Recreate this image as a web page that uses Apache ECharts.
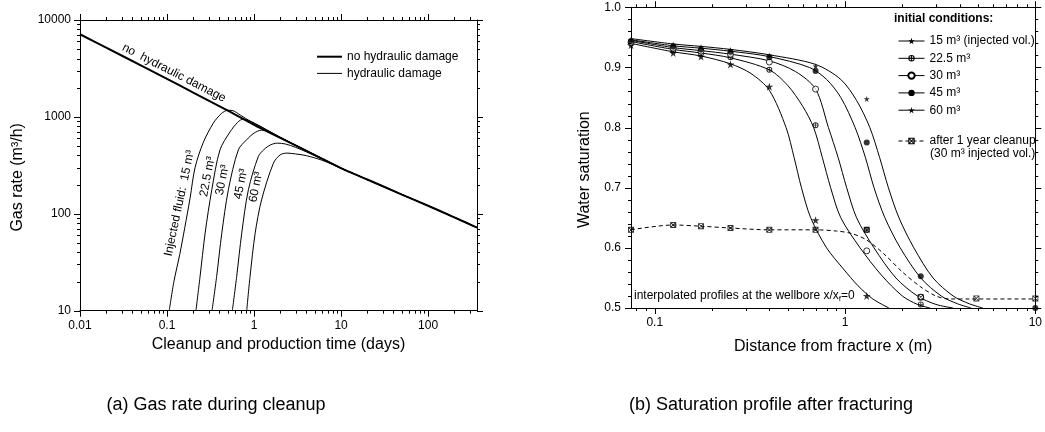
<!DOCTYPE html>
<html><head><meta charset="utf-8">
<script src="https://cdn.jsdelivr.net/npm/echarts@6/dist/echarts.min.js"></script>
<style>html,body{margin:0;padding:0;background:#fff}#c{width:1045px;height:432px}</style>
</head><body><div id="c"></div>
<script>
const FONT = '"Liberation Sans", Arial, sans-serif';

// ---------------- (a) Gas rate during cleanup ----------------
const gasTimeTicks = [0.01, 0.1, 1, 10, 100];
const gasRateTicks = [10, 100, 1000, 10000];
const noDamageTime = [0.01,0.02,0.05,0.1,0.2,0.5,1,2,5,10,20,50,100,200,365];
const noDamageRate = [7130,5190,3400,2470,1780,1160,830,608,404,296,226,158,121,92,72];
const dmg15Time = [0.106,0.12,0.14,0.16,0.184,0.21,0.26,0.34,0.42,0.5,0.56,0.7,0.9,1.2,1.6,2,3,5,10,20,50,100,200,365];
const dmg15Rate = [10,20,38,72,145,300,540,860,1080,1170,1165,1040,905,790,682,612,508,404,296,226,158,121,92,72];
const dmg22Time = [0.215,0.239,0.274,0.327,0.406,0.53,0.65,0.75,0.9,1.2,1.6,2,3,5,10,20,50,100,200,365];
const dmg22Rate = [10,22,63,177,457,700,880,950,905,795,688,614,510,405,296,226,158,121,92,72];
const dmg30Time = [0.329,0.372,0.426,0.507,0.66,0.82,1.0,1.22,1.5,2,3,5,10,20,50,100,200,365];
const dmg30Rate = [10,22.6,63,177,457,580,680,730,705,618,510,405,296,226,158,121,92,72];
const dmg45Time = [0.563,0.632,0.722,0.861,1.12,1.3,1.55,1.85,2.3,3,4,6,10,20,50,100,200,365];
const dmg45Rate = [10,22.6,63,177,390,460,515,536,525,485,435,368,294,226,158,121,92,72];
const dmg60Time = [0.824,0.9,1.03,1.22,1.67,1.99,2.38,3,4,6,8,10,20,50,100,200,365];
const dmg60Rate = [10,22.6,63,139,333,405,423,415,398,358,322,294,226,158,121,92,72];

// ---------------- (b) Saturation profile after fracturing ----------------
const distTicks = [0.1, 1, 10];
const satTicks = [0.5, 0.6, 0.7, 0.8, 0.9, 1.0];
const c15x = [0.075,0.125,0.175,0.25,0.32,0.4,0.49,0.54,0.59,0.66,0.8,0.98,1.17,1.4,1.7];
const c15y = [0.940,0.926,0.919,0.906,0.89,0.862,0.80,0.75,0.70,0.65,0.60,0.565,0.537,0.515,0.5];
const c22x = [0.075,0.125,0.175,0.25,0.4,0.5,0.6,0.684,0.76,0.84,0.95,1.2,1.55,2.0,2.4,2.8];
const c22y = [0.943,0.930,0.924,0.916,0.896,0.87,0.835,0.80,0.75,0.70,0.65,0.60,0.555,0.52,0.506,0.5];
const c30x = [0.075,0.125,0.175,0.25,0.4,0.55,0.7,0.818,0.92,1.02,1.15,1.42,1.85,2.4,3.0,3.7];
const c30y = [0.945,0.933,0.928,0.922,0.911,0.893,0.864,0.80,0.75,0.70,0.65,0.60,0.55,0.52,0.506,0.5];
const c45x = [0.075,0.125,0.175,0.25,0.4,0.65,0.8,0.95,1.13,1.28,1.42,1.62,1.95,2.5,3.2,3.9,4.6];
const c45y = [0.946,0.936,0.932,0.927,0.918,0.90,0.88,0.85,0.80,0.75,0.70,0.65,0.60,0.55,0.52,0.507,0.5];
const c60x = [0.075,0.125,0.175,0.25,0.4,0.7,0.95,1.15,1.35,1.52,1.69,1.92,2.3,2.9,3.7,4.5,5.3];
const c60y = [0.948,0.939,0.935,0.930,0.921,0.905,0.88,0.845,0.80,0.75,0.70,0.65,0.60,0.55,0.52,0.507,0.5];
const cleanX = [0.075,0.125,0.175,0.25,0.4,0.7,0.9,1.08,1.3,1.6,2.0,2.5,3.0,3.5,4.5,10];
const cleanY = [0.630,0.638,0.636,0.633,0.630,0.630,0.628,0.624,0.613,0.59,0.56,0.535,0.52,0.515,0.515,0.515];
// simulated points
const p15x = [0.075,0.125,0.175,0.25,0.4,0.7,1.3];
const p15y = [0.937,0.924,0.918,0.905,0.868,0.646,0.520];
const p22x = [0.075,0.125,0.175,0.25,0.4,0.7,1.3,2.5];
const p22y = [0.940,0.928,0.923,0.917,0.896,0.804,0.630,0.506];
const p30x = [0.075,0.125,0.175,0.25,0.4,0.7,1.3,2.5];
const p30y = [0.942,0.932,0.927,0.922,0.909,0.864,0.595,0.518];
const p45x = [0.075,0.125,0.175,0.25,0.4,0.7,1.3,2.5,10];
const p45y = [0.944,0.935,0.930,0.926,0.917,0.894,0.775,0.553,0.5];
const p60x = [0.075,0.125,0.175,0.25,0.4,0.7,1.3];
const p60y = [0.946,0.938,0.934,0.929,0.920,0.902,0.8475];
const pCleanX = [0.075,0.125,0.175,0.25,0.4,0.7,1.3,2.5,4.9,10];
const pCleanY = [0.630,0.638,0.636,0.633,0.630,0.630,0.630,0.518,0.516,0.516];

const zip = (a, b) => a.map((v, i) => [v, b[i]]);
function minorLog(lo, hi) { const out = []; for (let e = -3; e <= 3; e++) for (let m = 2; m <= 9; m++) { const v = +(m * Math.pow(10, e)).toPrecision(6); if (v > lo && v < hi) out.push(v); } return out; }
function minorLin(lo, hi, step, majors) { const out = []; for (let v = lo; v <= hi + 1e-9; v += step) { const r = +v.toFixed(4); if (!majors.some(m => Math.abs(m - r) < 1e-6)) out.push(r); } return out; }

const STAR = 'path://M5,0 L6.2,3.6 L10,3.6 L6.9,5.8 L8.1,9.5 L5,7.2 L1.9,9.5 L3.1,5.8 L0,3.6 L3.8,3.6 Z';
const CROSSCIRC = 'path://M0,5 A5,5 0 1,1 10,5 A5,5 0 1,1 0,5 Z M1.6,5 A3.4,3.4 0 1,0 8.4,5 A3.4,3.4 0 1,0 1.6,5 Z M4.3,1 L5.7,1 L5.7,9 L4.3,9 Z M1,4.3 L9,4.3 L9,5.7 L1,5.7 Z';
const CROSSSQ = 'path://M0,0 L10,0 L10,10 L0,10 Z M1.5,1.5 L1.5,8.5 L8.5,8.5 L8.5,1.5 Z M1.5,0.5 L9.5,8.5 L8.5,9.5 L0.5,1.5 Z M8.5,0.5 L9.5,1.5 L1.5,9.5 L0.5,8.5 Z';

const fmt = v => String(+(+v).toPrecision(6));
const axLine = () => ({ show: true, onZero: false, lineStyle: { color: '#000', width: 1 } });
const noTick = () => ({ show: false });
const lab = (vals, margin) => ({ show: true, customValues: vals, formatter: fmt, fontSize: 12, color: '#000', fontFamily: FONT, margin });
const nameStyle = (pad) => ({ fontSize: 16, color: '#000', fontFamily: FONT, padding: pad || 0 });
function A(base, o) { return Object.assign({ splitLine: { show: false }, axisLine: axLine(), axisTick: noTick(), minorTick: { show: false }, axisLabel: { show: false } }, base, o); }

const gx = { type: 'log', logBase: 10, min: 0.01, max: 365, gridIndex: 0 };
const gy = { type: 'log', logBase: 10, min: 10, max: 10000, gridIndex: 0 };
const dx = { type: 'log', logBase: 10, min: 0.075, max: 10, gridIndex: 1 };
const dy = { type: 'value', min: 0.5, max: 1.0, interval: 0.1, gridIndex: 1 };

const xAxis = [
  A(gx, { position: 'bottom', axisLabel: lab(gasTimeTicks, 9), name: 'Cleanup and production time (days)', nameLocation: 'middle', nameGap: 22, nameTextStyle: nameStyle() }),
  A(gx, { position: 'top' }),
  A(dx, { position: 'bottom', axisLabel: lab(distTicks, 9), name: 'Distance from fracture x (m)', nameLocation: 'middle', nameGap: 31, nameTextStyle: nameStyle() }),
  A(dx, { position: 'top' })
];
const yAxis = [
  A(gy, { position: 'left', axisLabel: lab(gasRateTicks, 9), name: 'Gas rate (m\u00B3/h)', nameLocation: 'middle', nameGap: 54, nameTextStyle: nameStyle([0, 24, 0, 0]) }),
  A(gy, { position: 'right' }),
  A(dy, { position: 'left', axisLabel: { show: true, formatter: v => v.toFixed(1), fontSize: 12, color: '#000', fontFamily: FONT, margin: 10 }, name: 'Water saturation', nameLocation: 'middle', nameGap: 38, nameTextStyle: nameStyle([0, 24, 0, 0]) }),
  A(dy, { position: 'right' })
];

// tick marks (major and minor) drawn on all four sides through the axis scales
const withLen = (vals, len) => vals.map(v => [v, len]);
function tickSeries(xIdx, yIdx, dir, ticks, ref) {
  return {
    type: 'custom', coordinateSystem: 'cartesian2d', xAxisIndex: xIdx, yAxisIndex: yIdx, silent: true, clip: false, z: 6,
    data: ticks,
    renderItem: (params, api) => {
      const cs = params.coordSys;
      const v = api.value(0), len = api.value(1);
      const st = { stroke: '#000', lineWidth: 1 };
      if (dir === 'x') {
        const px = Math.round(api.coord([v, ref])[0]) + 0.5;
        const yb = cs.y + cs.height, yt = cs.y;
        return { type: 'group', children: [
          { type: 'line', shape: { x1: px, y1: yb, x2: px, y2: yb + len }, style: st },
          { type: 'line', shape: { x1: px, y1: yt, x2: px, y2: yt - len }, style: st } ] };
      }
      const py = Math.round(api.coord([ref, v])[1]) + 0.5;
      const xl = cs.x, xr = cs.x + cs.width;
      return { type: 'group', children: [
        { type: 'line', shape: { x1: xl, y1: py, x2: xl - len, y2: py }, style: st },
        { type: 'line', shape: { x1: xr, y1: py, x2: xr + len, y2: py }, style: st } ] };
    }
  };
}

const gasLine = (name, t, q, w, z) => ({
  type: 'line', name, xAxisIndex: 0, yAxisIndex: 0, data: zip(t, q), symbol: 'none',
  smooth: 0.3, lineStyle: { color: '#000', width: w }, itemStyle: { color: '#000' }, z, silent: true
});
const satLine = (name, x, y, sym, dashed) => ({
  type: 'line', name, xAxisIndex: 2, yAxisIndex: 2, data: zip(x, y), symbol: sym, showSymbol: false,
  smooth: 0.3, lineStyle: { color: '#000', width: 1, type: dashed ? [4, 3] : 'solid' },
  itemStyle: { color: '#000' }, silent: true
});
const satPts = (name, x, y, sym, size, empty) => ({
  type: 'scatter', name, xAxisIndex: 2, yAxisIndex: 2, data: zip(x, y), symbol: sym, symbolSize: size,
  itemStyle: empty ? { color: '#fff', borderColor: '#000', borderWidth: 1 } : { color: '#000' }, silent: true, z: 3
});

const series = [
  gasLine('hydraulic damage', dmg15Time, dmg15Rate, 1, 2),
  gasLine('hydraulic damage', dmg22Time, dmg22Rate, 1, 2),
  gasLine('hydraulic damage', dmg30Time, dmg30Rate, 1, 2),
  gasLine('hydraulic damage', dmg45Time, dmg45Rate, 1, 2),
  gasLine('hydraulic damage', dmg60Time, dmg60Rate, 1, 2),
  gasLine('no hydraulic damage', noDamageTime, noDamageRate, 2, 3),
  satLine('15 m\u00B3 (injected vol.)', c15x, c15y, STAR),
  satLine('22.5 m\u00B3', c22x, c22y, CROSSCIRC),
  satLine('30 m\u00B3', c30x, c30y, 'emptyCircle'),
  satLine('45 m\u00B3', c45x, c45y, 'circle'),
  satLine('60 m\u00B3', c60x, c60y, STAR),
  satLine('after 1 year cleanup', cleanX, cleanY, CROSSSQ, true),
  satPts('p15', p15x, p15y, STAR, 8),
  satPts('p22', p22x, p22y, CROSSCIRC, 6),
  satPts('p30', p30x, p30y, 'circle', 6, true),
  satPts('p45', p45x, p45y, 'circle', 6),
  satPts('p60', p60x, p60y, STAR, 6),
  satPts('pClean', pCleanX, pCleanY, CROSSSQ, 6),
  tickSeries(0, 0, 'x', withLen(gasTimeTicks, 6).concat(withLen(minorLog(0.01, 365), 3)), 100),
  tickSeries(0, 0, 'y', withLen(gasRateTicks, 6).concat(withLen(minorLog(10, 10000), 3)), 1),
  tickSeries(2, 2, 'x', withLen(distTicks, 6).concat(withLen(minorLog(0.075, 10), 3)), 0.7),
  tickSeries(2, 2, 'y', withLen(satTicks, 6).concat(withLen(minorLin(0.5, 1.0, 0.02, satTicks), 3)), 1)
];

const legTxt = { fontSize: 12, color: '#000', fontFamily: FONT };
const legend = [
  { left: 311, top: 45.7, orient: 'vertical', itemWidth: 25, itemHeight: 10, itemGap: 4.7, selectedMode: false,
    itemStyle: { opacity: 0, borderWidth: 0 }, textStyle: legTxt,
    data: [{ name: 'no hydraulic damage', lineStyle: { width: 2 } }, { name: 'hydraulic damage', lineStyle: { width: 1 } }] },
  { left: 893, top: 30, orient: 'vertical', itemWidth: 26, itemHeight: 8, itemGap: 5.3, selectedMode: false,
    lineStyle: { width: 1 }, textStyle: legTxt,
    data: ['15 m\u00B3 (injected vol.)', '22.5 m\u00B3', '30 m\u00B3', '45 m\u00B3', '60 m\u00B3'] },
  { left: 893, top: 130, orient: 'vertical', itemWidth: 26, itemHeight: 8, selectedMode: false,
    lineStyle: { width: 1 }, textStyle: legTxt, data: ['after 1 year cleanup'] }
];

const T = (text, x, y, o) => ({ type: 'text', x, y, rotation: (o && o.rot) || 0, silent: true,
  style: Object.assign({ text, fill: '#000', fontSize: 12, fontFamily: FONT, align: 'center', verticalAlign: 'middle' }, (o && o.style) || {}) });
const graphic = [
  T('no  hydraulic damage', 174, 73, { rot: -0.473 }),
  T('Injected fluid:  15 m\u00B3', 179.5, 203.3, { rot: 1.36 }),
  T('22.5 m\u00B3', 207.5, 176.7, { rot: 1.38 }),
  T('30 m\u00B3', 222.5, 180, { rot: 1.38 }),
  T('45 m\u00B3', 241, 184, { rot: 1.38 }),
  T('60 m\u00B3', 256, 187, { rot: 1.38 }),
  T('initial conditions:', 894, 18.3, { style: { align: 'left', fontWeight: 'bold' } }),
  T('(30 m\u00B3 injected vol.)', 930, 154, { style: { align: 'left' } }),
  T('interpolated profiles at the wellbore x/x{s|f}=0', 634, 295.7, { style: { align: 'left', rich: { s: { fontSize: 8, fontFamily: FONT, fill: '#000', padding: [6, 0, 0, 0] } } } }),
  T('(a) Gas rate during cleanup', 216, 405, { style: { fontSize: 18 } }),
  T('(b) Saturation profile after fracturing', 771, 405, { style: { fontSize: 18 } })
];

const chart = echarts.init(document.getElementById('c'), null, { renderer: 'canvas' });
chart.setOption({
  animation: false,
  backgroundColor: '#fff',
  textStyle: { fontFamily: FONT },
  grid: [
    { left: 80, top: 20, width: 397, height: 290.7, containLabel: false },
    { left: 631, top: 7.3, width: 408, height: 300.7, containLabel: false }
  ],
  xAxis, yAxis, series, legend, graphic
});
</script></body></html>
